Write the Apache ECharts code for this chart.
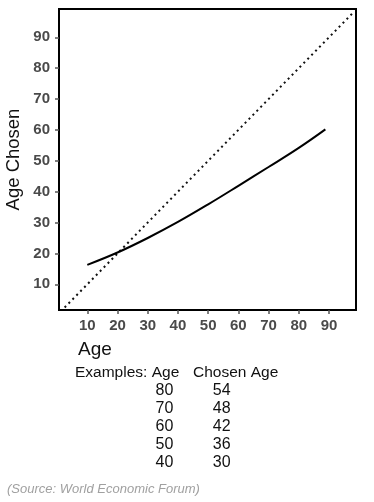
<!DOCTYPE html>
<html>
<head>
<meta charset="utf-8">
<script src="https://cdn.jsdelivr.net/npm/echarts@6/dist/echarts.min.js"></script>
<style>
html,body{margin:0;padding:0;background:#fff;}
#c{width:374px;height:502px;}
</style>
</head>
<body>
<div id="c"></div>
<script>
// Data
var tickValues = [10, 20, 30, 40, 50, 60, 70, 80, 90];
var curveAge = [10, 20, 30, 40, 50, 60, 70, 80, 88.8];
var curveChosen = [16.3, 20.3, 25, 30.2, 35.9, 41.9, 48, 54.2, 60.2];
var diagAge = [2.5, 98];
var diagChosen = [2.5, 98];
var exampleAge = [80, 70, 60, 50, 40];
var exampleChosen = [54, 48, 42, 36, 30];

var chart = echarts.init(document.getElementById('c'), null, {renderer: 'canvas'});

function pairs(xs, ys) { return xs.map(function (x, i) { return [x, ys[i]]; }); }

var font = 'Liberation Sans';
var graphics = [];
exampleAge.forEach(function (v, i) {
  graphics.push({type: 'text', z: 10, x: 164.5, y: 391 + i * 18,
    style: {text: String(v), fontSize: 16, fontFamily: font, fill: '#111', align: 'center', verticalAlign: 'middle'}});
  graphics.push({type: 'text', z: 10, x: 221.7, y: 391 + i * 18,
    style: {text: String(exampleChosen[i]), fontSize: 16, fontFamily: font, fill: '#111', align: 'center', verticalAlign: 'middle'}});
});
graphics.push({type: 'text', x: 78, y: 350, style: {text: 'Age', fontSize: 19, fontFamily: font, fill: '#111', verticalAlign: 'middle'}});
graphics.push({type: 'text', x: 75, y: 373, style: {text: 'Examples: Age', fontSize: 15.5, fontFamily: font, fill: '#111', verticalAlign: 'middle'}});
graphics.push({type: 'text', x: 193, y: 373, style: {text: 'Chosen Age', fontSize: 15.5, fontFamily: font, fill: '#111', verticalAlign: 'middle'}});
graphics.push({type: 'text', x: 7, y: 489, style: {text: '(Source: World Economic Forum)', fontSize: 13, fontStyle: 'italic', fontFamily: font, fill: '#a0a0a0', verticalAlign: 'middle'}});

var option = {
  backgroundColor: '#fff',
  animation: false,
  grid: {left: 59, top: 9, right: 18, bottom: 192, show: true, borderColor: '#000', borderWidth: 2, containLabel: false, outerBoundsMode: 'none'},
  xAxis: {
    type: 'value', min: 0.63, max: 98.94,
    axisLine: {show: true, lineStyle: {color: '#000', width: 2}},
    axisTick: {show: true, length: 4, lineStyle: {color: '#555', width: 1.5}, customValues: tickValues},
    axisLabel: {customValues: tickValues, color: '#4a4a4a', fontSize: 15, fontWeight: 'bold', fontFamily: font, margin: 8},
    splitLine: {show: false}
  },
  yAxis: {
    type: 'value', min: 1.68, max: 99.17,
    name: 'Age Chosen', nameLocation: 'middle', nameGap: 36, nameRotate: 90, nameMoveOverlap: false,
    nameTextStyle: {fontSize: 18.5, color: '#111', fontFamily: font},
    axisLine: {show: true, lineStyle: {color: '#000', width: 2}},
    axisTick: {show: true, length: 4, lineStyle: {color: '#555', width: 1.5}, customValues: tickValues},
    axisLabel: {customValues: tickValues, color: '#4a4a4a', fontSize: 15, fontWeight: 'bold', fontFamily: font, margin: 9},
    splitLine: {show: false}
  },
  series: [
    {type: 'line', data: pairs(diagAge, diagChosen), showSymbol: false, symbol: 'none',
     lineStyle: {color: '#111', width: 2, type: [2, 3.6], cap: 'butt'}},
    {type: 'line', data: pairs(curveAge, curveChosen), smooth: 0.4, showSymbol: false, symbol: 'none',
     lineStyle: {color: '#000', width: 2}}
  ],
  graphic: graphics
};
chart.setOption(option);
</script>
</body>
</html>
